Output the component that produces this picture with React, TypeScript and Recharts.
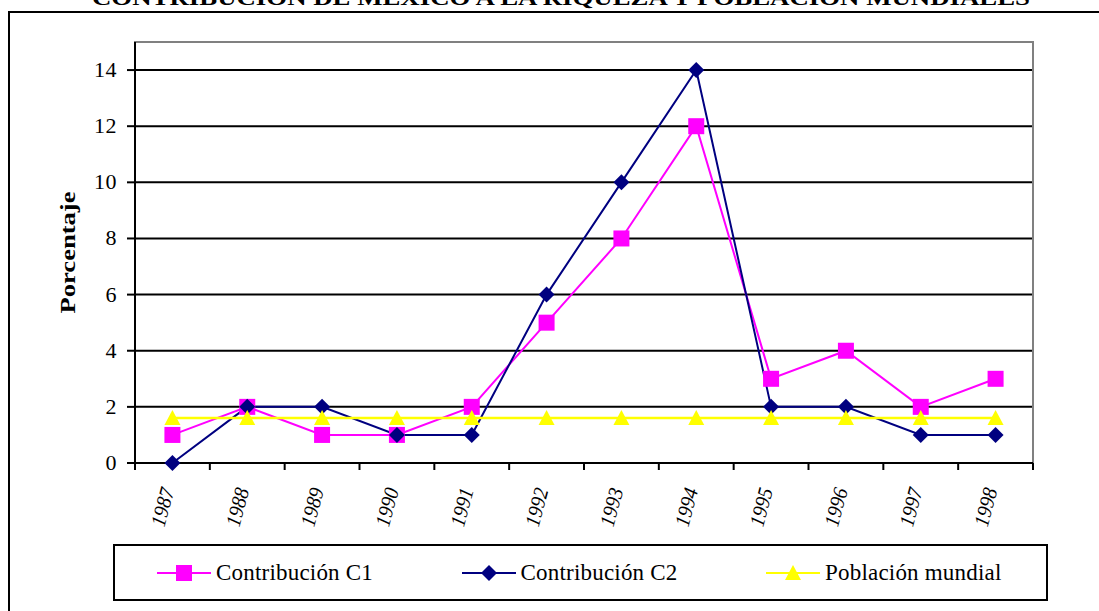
import React from "react";
import {
  LineChart,
  Line,
  XAxis,
  YAxis,
  CartesianGrid,
  ReferenceArea,
} from "recharts";

// values
const years = ["1987", "1988", "1989", "1990", "1991", "1992", "1993", "1994", "1995", "1996", "1997", "1998"];
const contribucionC1 = [1, 2, 1, 1, 2, 5, 8, 12, 3, 4, 2, 3];
const contribucionC2 = [0, 2, 2, 1, 1, 6, 10, 14, 2, 2, 1, 1];
const poblacionMundial = [1.6, 1.6, 1.6, 1.6, 1.6, 1.6, 1.6, 1.6, 1.6, 1.6, 1.6, 1.6];
const yTicks = [0, 2, 4, 6, 8, 10, 12, 14];

const TITLE = "CONTRIBUCIÓN DE MÉXICO A LA RIQUEZA Y POBLACIÓN MUNDIALES";
const FONT = "'Liberation Serif', 'Times New Roman', serif";

const data = years.map((year, i) => ({
  year,
  c1: contribucionC1[i],
  c2: contribucionC2[i],
  pob: poblacionMundial[i],
}));

const MAGENTA = "#FF00FF";
const NAVY = "#000080";
const YELLOW = "#FFFF00";

const square = (cx: number, cy: number, key?: string) => (
  <rect key={key} x={cx - 8} y={cy - 8} width={16} height={16} fill={MAGENTA} />
);
const diamond = (cx: number, cy: number, key?: string) => (
  <polygon
    key={key}
    points={`${cx},${cy - 8} ${cx + 8},${cy} ${cx},${cy + 8} ${cx - 8},${cy}`}
    fill={NAVY}
  />
);
const triangle = (cx: number, cy: number, key?: string) => (
  <polygon
    key={key}
    points={`${cx},${cy - 8} ${cx + 8},${cy + 7} ${cx - 8},${cy + 7}`}
    fill={YELLOW}
  />
);

const series = [
  { key: "c1", name: "Contribución C1", color: MAGENTA, width: 2, marker: square },
  { key: "c2", name: "Contribución C2", color: NAVY, width: 2, marker: diamond },
  { key: "pob", name: "Población mundial", color: YELLOW, width: 2.5, marker: triangle },
];

const XTick = (props: any) => {
  const { x, y, payload, index, width, visibleTicksCount } = props;
  const band = (width || 898) / (visibleTicksCount || years.length);
  return (
    <g>
      <line x1={x - band / 2} y1={y} x2={x - band / 2} y2={y + 7} stroke="#000" strokeWidth={2} />
      {index === years.length - 1 && (
        <line x1={x + band / 2} y1={y} x2={x + band / 2} y2={y + 7} stroke="#000" strokeWidth={2} />
      )}
      <text
        x={x + 2}
        y={y + 27}
        transform={`rotate(-75 ${x + 2} ${y + 27})`}
        textAnchor="end"
        fontFamily={FONT}
        fontStyle="italic"
        fontSize={21}
        textLength={39}
        lengthAdjust="spacingAndGlyphs"
        fill="#000"
      >
        {payload.value}
      </text>
    </g>
  );
};

const YTick = (props: any) => {
  const { x, y, payload } = props;
  return (
    <text
      x={x}
      y={y}
      dy={7}
      textAnchor="end"
      fontFamily={FONT}
      fontSize={22}
      letterSpacing={0.5}
      fill="#000"
    >
      {payload.value}
    </text>
  );
};

const YLabel = (props: any) => {
  const { viewBox } = props;
  const cx = viewBox.x - 8;
  const cy = viewBox.y + viewBox.height / 2;
  return (
    <text
      x={cx}
      y={cy}
      transform={`rotate(-90 ${cx} ${cy})`}
      textAnchor="middle"
      dominantBaseline="central"
      fontFamily={FONT}
      fontWeight="bold"
      fontSize={22}
      textLength={122}
      lengthAdjust="spacingAndGlyphs"
    >
      Porcentaje
    </text>
  );
};

const App: React.FC = () => {
  return (
    <div
      style={{
        position: "absolute",
        left: 0,
        top: 0,
        width: 1099,
        height: 611,
        overflow: "hidden",
        background: "#fff",
        fontFamily: FONT,
      }}
    >
      {/* outer chart frame, runs off the right and bottom edge */}
      <div
        style={{
          position: "absolute",
          left: 8,
          top: 11,
          width: 1200,
          height: 700,
          border: "2px solid #000",
          boxSizing: "border-box",
        }}
      />
      <svg width={1099} height={20} style={{ position: "absolute", left: 0, top: 0 }}>
        <text
          x={561}
          y={5}
          textAnchor="middle"
          fontFamily={FONT}
          fontWeight="bold"
          fontSize={22}
          textLength={938}
          lengthAdjust="spacingAndGlyphs"
        >
          {TITLE}
        </text>
      </svg>

      <div style={{ position: "absolute", left: 0, top: 0 }}>
        <LineChart
          width={1099}
          height={611}
          data={data}
          margin={{ top: 42, right: 66, bottom: 98, left: 75 }}
        >
          <CartesianGrid vertical={false} stroke="#000" strokeWidth={2} />
          <ReferenceArea
            y1={0}
            y2={15}
            fill="none"
            stroke="#808080"
            strokeWidth={2}
            ifOverflow="visible"
          />
          <XAxis
            dataKey="year"
            scale="band"
            interval={0}
            height={50}
            tickSize={0}
            tickMargin={0}
            tickLine={false}
            axisLine={{ stroke: "#000", strokeWidth: 2 }}
            tick={<XTick />}
          />
          <YAxis
            width={60}
            domain={[0, 15]}
            ticks={yTicks}
            tickSize={8}
            tickMargin={10}
            tickLine={{ stroke: "#000", strokeWidth: 2 }}
            axisLine={{ stroke: "#000", strokeWidth: 2 }}
            tick={<YTick />}
            label={<YLabel />}
          />
          {series.map((s) => (
            <Line
              key={s.key}
              dataKey={s.key}
              name={s.name}
              type="linear"
              stroke={s.color}
              strokeWidth={s.width}
              isAnimationActive={false}
              dot={(p: any) => s.marker(p.cx, p.cy, `${s.key}-${p.index}`)}
              activeDot={false}
            />
          ))}
        </LineChart>
      </div>

      {/* legend box */}
      <div
        style={{
          position: "absolute",
          left: 113,
          top: 544,
          width: 935,
          height: 57,
          border: "2px solid #000",
          boxSizing: "border-box",
        }}
      >
        {series.map((s, i) => (
          <div
            key={s.key}
            style={{
              position: "absolute",
              left: 42 + i * 304.5,
              top: 0,
              height: 53,
              display: "flex",
              alignItems: "center",
              whiteSpace: "nowrap",
            }}
          >
            <svg width={54} height={20} style={{ marginRight: 5 }}>
              <line x1={0} y1={10} x2={54} y2={10} stroke={s.color} strokeWidth={2} />
              {s.marker(27, 10)}
            </svg>
            <span style={{ fontSize: 23, letterSpacing: 0.2, color: "#000" }}>{s.name}</span>
          </div>
        ))}
      </div>
    </div>
  );
};

export default App;
